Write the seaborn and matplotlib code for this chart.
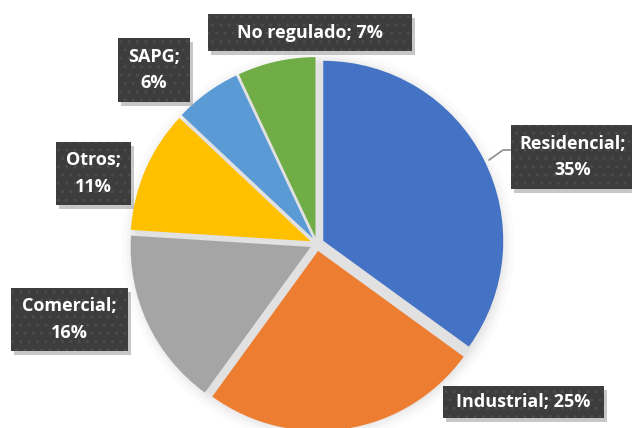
import matplotlib
matplotlib.use("Agg")
import matplotlib.pyplot as plt
import seaborn as sns
from matplotlib.patches import Rectangle, Circle

categories = ["Residencial", "Industrial", "Comercial", "Otros", "SAPG", "No regulado"]
values = [35, 25, 16, 11, 6, 7]
colors = ["#4472C4", "#ED7D31", "#A5A5A5", "#FFC000", "#5B9BD5", "#70AD47"]

sns.set_theme(style="white")
plt.rcParams['font.family'] = ['Open Sans', 'DejaVu Sans']

W, H = 632, 428
fig = plt.figure(figsize=(W / 100, H / 100), dpi=100)
ax = fig.add_axes([0, 0, 1, 1])

cx, cy, r = 317, H - 244, 180
gap = 7  # explosion distance in pixels

# soft shadow glow behind the pie
for k, a in zip([16, 12, 9, 6, 3], [0.03, 0.035, 0.045, 0.055, 0.07]):
    ax.add_patch(Circle((cx + 1, cy - 2), r + k, color="#808080", alpha=a, lw=0, zorder=0))

palette = sns.color_palette(colors)
wedges, _ = ax.pie(values, colors=palette, startangle=90, counterclock=False,
                   center=(cx, cy), radius=r, explode=[gap] * len(values),
                   wedgeprops=dict(edgecolor="none", linewidth=0))
for w in wedges:
    w.set_zorder(2)

ax.set_xlim(0, W)
ax.set_ylim(0, H)
ax.set_aspect("equal")
ax.axis("off")

texts = ["Residencial;\n35%", "Industrial; 25%", "Comercial;\n16%",
         "Otros;\n11%", "SAPG;\n6%", "No regulado; 7%"]
boxes = [(511, 634, 125, 189), (443, 604, 386, 418), (11, 128, 288, 351),
         (56, 131, 142, 205), (118, 190, 38, 102), (208, 412, 14, 51)]

for t, (x0, x1, y0, y1) in zip(texts, boxes):
    ax.add_patch(Rectangle((x0 + 3, H - y1 - 4), x1 - x0, y1 - y0,
                           facecolor="#9a9a9a", alpha=0.55, lw=0, zorder=4))
    ax.add_patch(Rectangle((x0, H - y1), x1 - x0, y1 - y0,
                           facecolor="#3d3d3d", edgecolor="#4c4c4c", hatch="..",
                           lw=0, zorder=5))
    ax.text((x0 + x1) / 2, H - (y0 + y1) / 2, t, ha="center", va="center",
            color="white", fontsize=13, fontweight="bold", linespacing=1.6,
            zorder=6)

# leader line for Residencial
ax.plot([489, 503, 511], [H - 160, H - 150, H - 150], color="#8c8c8c", lw=1.2, zorder=3)

fig.savefig("out.png", dpi=100)
